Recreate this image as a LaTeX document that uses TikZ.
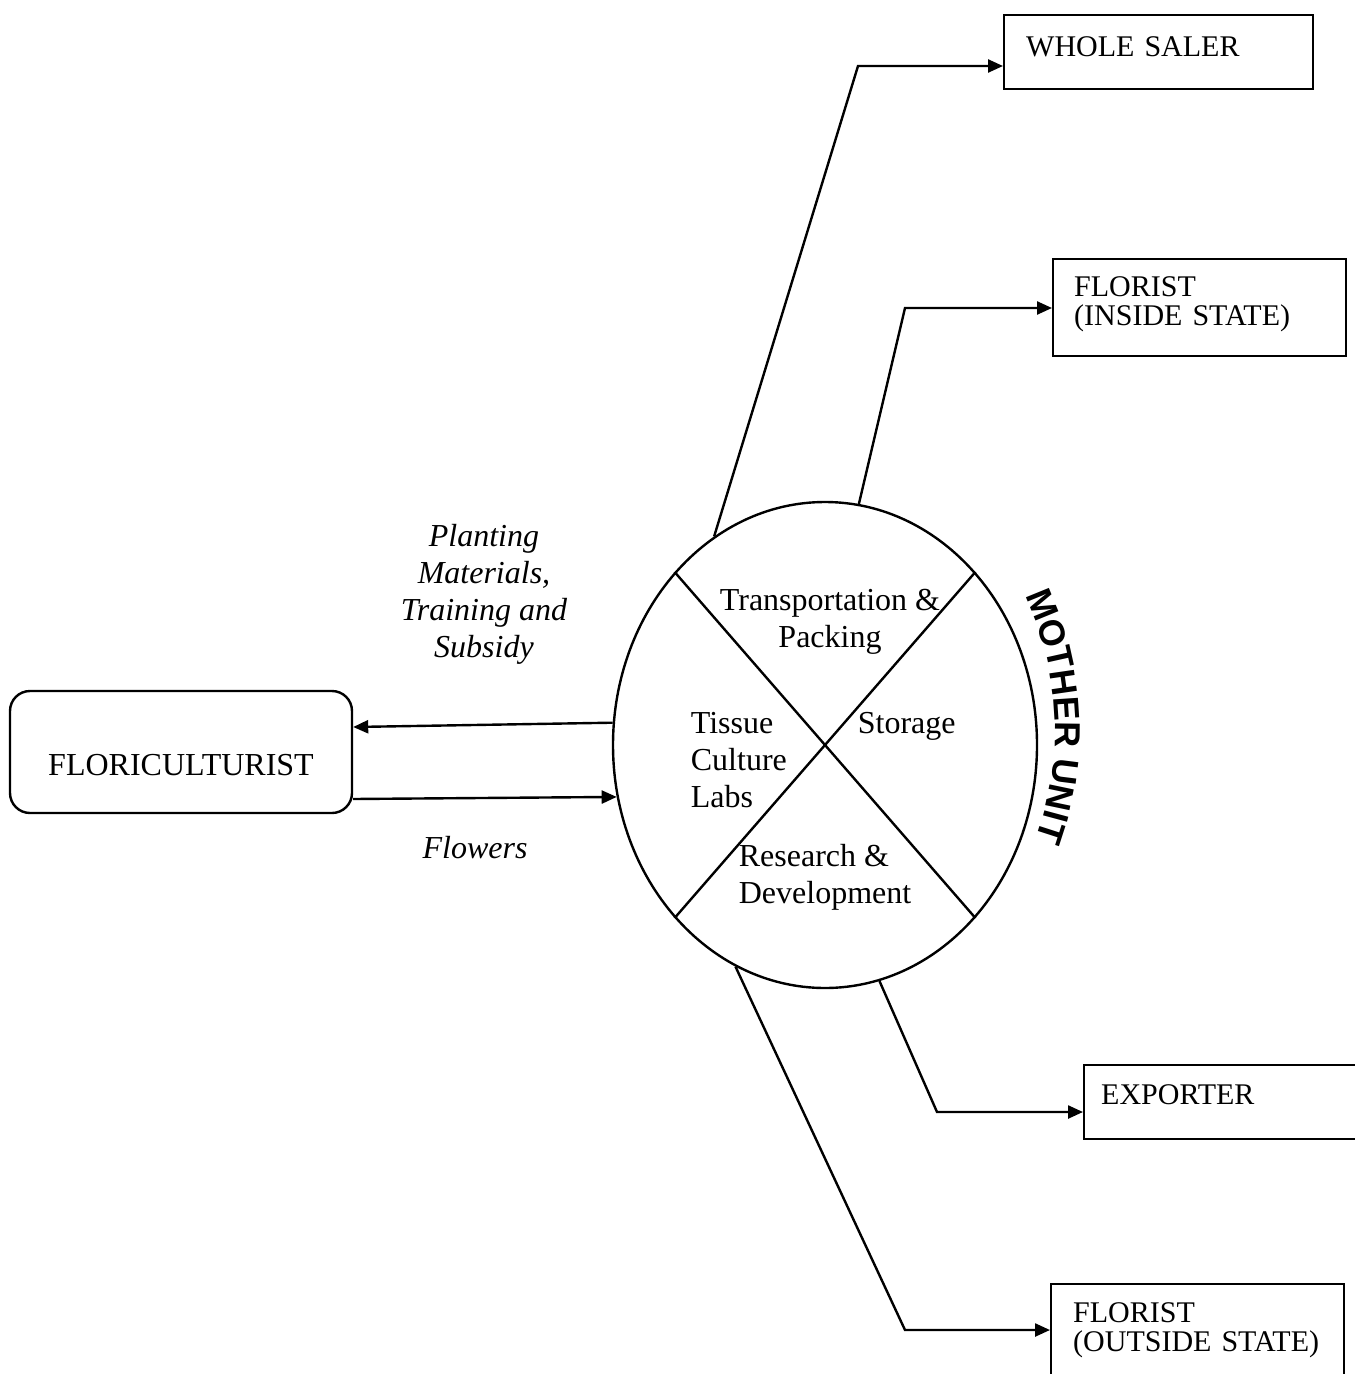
\documentclass[tikz,border=0pt]{standalone}
\usepackage{fontspec}
\setmainfont{Liberation Serif}
\newfontfamily\musans{Liberation Sans}
\usetikzlibrary{arrows.meta,shapes.geometric,decorations.text}

\begin{document}
\begin{tikzpicture}[x=0.5pt,y=-0.5pt,line width=1.2pt,
  >={Triangle[length=7.5pt,width=6.5pt]},
  outbox/.style={draw,anchor=north west,inner ysep=0pt,align=left,font=\fontsize{15}{14.5}\selectfont},
  inlbl/.style={align=left,font=\fontsize{16}{18.5}\selectfont},
  flowlbl/.style={align=center,font=\fontsize{16}{18.5}\selectfont\itshape}]
\useasboundingbox (0,0) rectangle (1354,1374);
% mother unit
\node[draw,ellipse,inner sep=0pt,minimum width=212pt,minimum height=243pt] (mu) at (825,745) {};
\draw (mu.131) -- (mu.-49);
\draw (mu.49) -- (mu.-131);
\node[inlbl,align=center,anchor=base] (tp) at (830,647) {Transportation \&\\Packing};
\node[inlbl,anchor=base west] (tc) at (683,807) {Tissue\\Culture\\Labs};
\node[inlbl,anchor=base west] (st) at (850,733) {Storage};
\node[inlbl,anchor=base west] (rd) at (731,903) {Research \&\\Development};
\path[decorate,decoration={text along path,text align=center,
  text={|\musans\bfseries\fontsize{18}{20}\selectfont|MOTHER UNIT}}]
  (735,730) ++(-27:320) arc[start angle=-27,end angle=22,radius=320];
% floriculturist and the two flows
\node[draw,rounded corners=10pt,inner sep=0pt,minimum width=171pt,text height=42pt,text depth=19pt,
  font=\fontsize{16}{18.5}\selectfont] (flc) at (181,752) {FLORICULTURIST};
\draw[->] (mu.174) -- ([yshift=12.5pt]flc.east);
\draw[->] ([yshift=-23.5pt]flc.east) -- (mu.194);
\node[flowlbl,anchor=base] (pm) at (484,657) {Planting\\Materials,\\Training and\\Subsidy};
\node[flowlbl,anchor=base] (fl) at (475,858) {Flowers};
% buyers
\node[outbox,inner xsep=11pt,text width=132.5pt,text height=20.5pt,text depth=16.5pt] (ws) at (1003,14) {WHOLE SALER};
\node[outbox,inner xsep=10.5pt,text width=125.5pt,text height=18.5pt,text depth=30pt] (fi) at (1052,258) {FLORIST\\(INSIDE STATE)};
\node[outbox,inner xsep=8.5pt,text width=131.5pt,text height=19.5pt,text depth=17.5pt] (ex) at (1083,1064) {EXPORTER};
\node[outbox,inner xsep=11pt,text width=124.5pt,text height=19pt,text depth=39.5pt] (fo) at (1050,1283) {FLORIST\\(OUTSIDE STATE)};
\coordinate (k1) at (858,66);
\coordinate (k2) at (905,308);
\coordinate (k3) at (937,1112);
\coordinate (k4) at (905,1330);
\draw[->] (mu.118) -- (k1) -- (k1 -| ws.west);
\draw[->] (mu.82) -- (k2) -- (k2 -| fi.west);
\draw[->] (mu.283) -- (k3) -- (k3 -| ex.west);
\draw[->] (mu.248) -- (k4) -- (k4 -| fo.west);
\end{tikzpicture}
\end{document}
